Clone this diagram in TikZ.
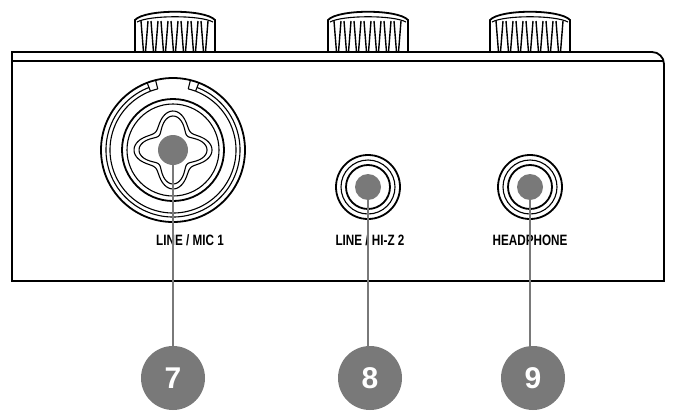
\documentclass[tikz,border=0pt]{standalone}
\usepackage{fontspec}
\setmainfont{Liberation Sans}
\begin{document}
\begin{tikzpicture}[x=1pt,y=-1pt,
  edge/.style={line width=1.8pt,black},
  thin/.style={line width=1.1pt,black},
  lead/.style={line width=2.2pt,gray!95!black},
  dot/.style={circle,fill=gray!95!black,inner sep=0pt},
  badge/.style={circle,fill=gray!95!black,minimum size=64pt,inner sep=0pt,text=white,font=\bfseries\fontsize{30}{30}\selectfont},
  lbl/.style={font=\bfseries\fontsize{15}{16}\selectfont}]
\useasboundingbox (0,0) rectangle (674,415);
% knobs
\foreach \kx in {175,368,530}{
  \fill[white] (\kx-40,52) -- (\kx-40,20) .. controls (\kx-30,9) and (\kx+30,9) .. (\kx+40,20) -- (\kx+40,52) -- cycle;
  \draw[edge] (\kx-40,52) -- (\kx-40,20) .. controls (\kx-30,9) and (\kx+30,9) .. (\kx+40,20) -- (\kx+40,52);
  \draw[thin] (\kx-38,22) .. controls (\kx-25,15) and (\kx+25,15) .. (\kx+38,22);
  \foreach \s in {-34,-24,-14,-4,6,16,26}{
    \draw[line width=1.4pt] (\kx+\s,21) -- (\kx+\s+2.5,52);
    \draw[line width=1.4pt] (\kx+\s+7,21) -- (\kx+\s+4.5,52);
  }
}
% body
\draw[edge] (12,281) -- (12,52) -- (652,52) arc[start angle=-90,end angle=0,radius=12] -- (664,281) -- cycle;
\draw[edge] (12,61) -- (664,61);
% XLR
\draw[edge] (173,150) circle[radius=72];
\draw[thin] (173,150) ++(291:67) arc[start angle=291,end angle=609,radius=67];
\draw[thin] (173,150) ++(291:63) arc[start angle=291,end angle=609,radius=63];
\draw[thin] (173,150) ++(249:63) -- ++(249:9);
\draw[thin] (173,150) ++(291:63) -- ++(291:9);
\draw[thin] (173,150) ++(256:63) -- ++(256:9);
\draw[thin] (173,150) ++(284:63) -- ++(284:9);
\draw[thin] (173,150) ++(249:63) arc[start angle=249,end angle=256,radius=63];
\draw[thin] (173,150) ++(291:63) arc[start angle=291,end angle=284,radius=63];
\draw[edge] (173,150) circle[radius=51];
\draw[thin] (173,150) circle[radius=46];
\draw[thin,smooth,samples=120,domain=0:360] plot ({173+(32+7*cos(4*\x))*cos(\x)},{150+(32+7*cos(4*\x))*sin(\x)}) -- cycle;
\draw[thin,smooth,samples=120,domain=0:360] plot ({173+(27+7*cos(4*\x))*cos(\x)},{150+(27+7*cos(4*\x))*sin(\x)}) -- cycle;
\node[dot,minimum size=30pt] (d7) at (173,150) {};
% jacks
\foreach \n/\jx in {8/368,9/530}{
  \draw[edge] (\jx,187) circle[radius=32];
  \draw[thin] (\jx,187) circle[radius=27];
  \draw[edge] (\jx,187) circle[radius=22];
  \node[dot,minimum size=26pt] (d\n) at (\jx,187) {};
}
\node[lbl,xscale=0.78] (l7) at (190,240) {LINE / MIC 1};
\node[lbl,xscale=0.78] (l8) at (370,240) {LINE / HI-Z 2};
\node[lbl,xscale=0.78] (l9) at (530,240) {HEADPHONE};
\node[badge] (b7) at (173,378) {7};
\node[badge] (b8) at (370,378) {8};
\node[badge] (b9) at (533,378) {9};
\draw[lead] (d7.center) -- (b7);
\draw[lead] (d8.center) -- (d8.center |- b8.north);
\draw[lead] (d9.center) -- (d9.center |- b9.north);
\end{tikzpicture}
\end{document}
